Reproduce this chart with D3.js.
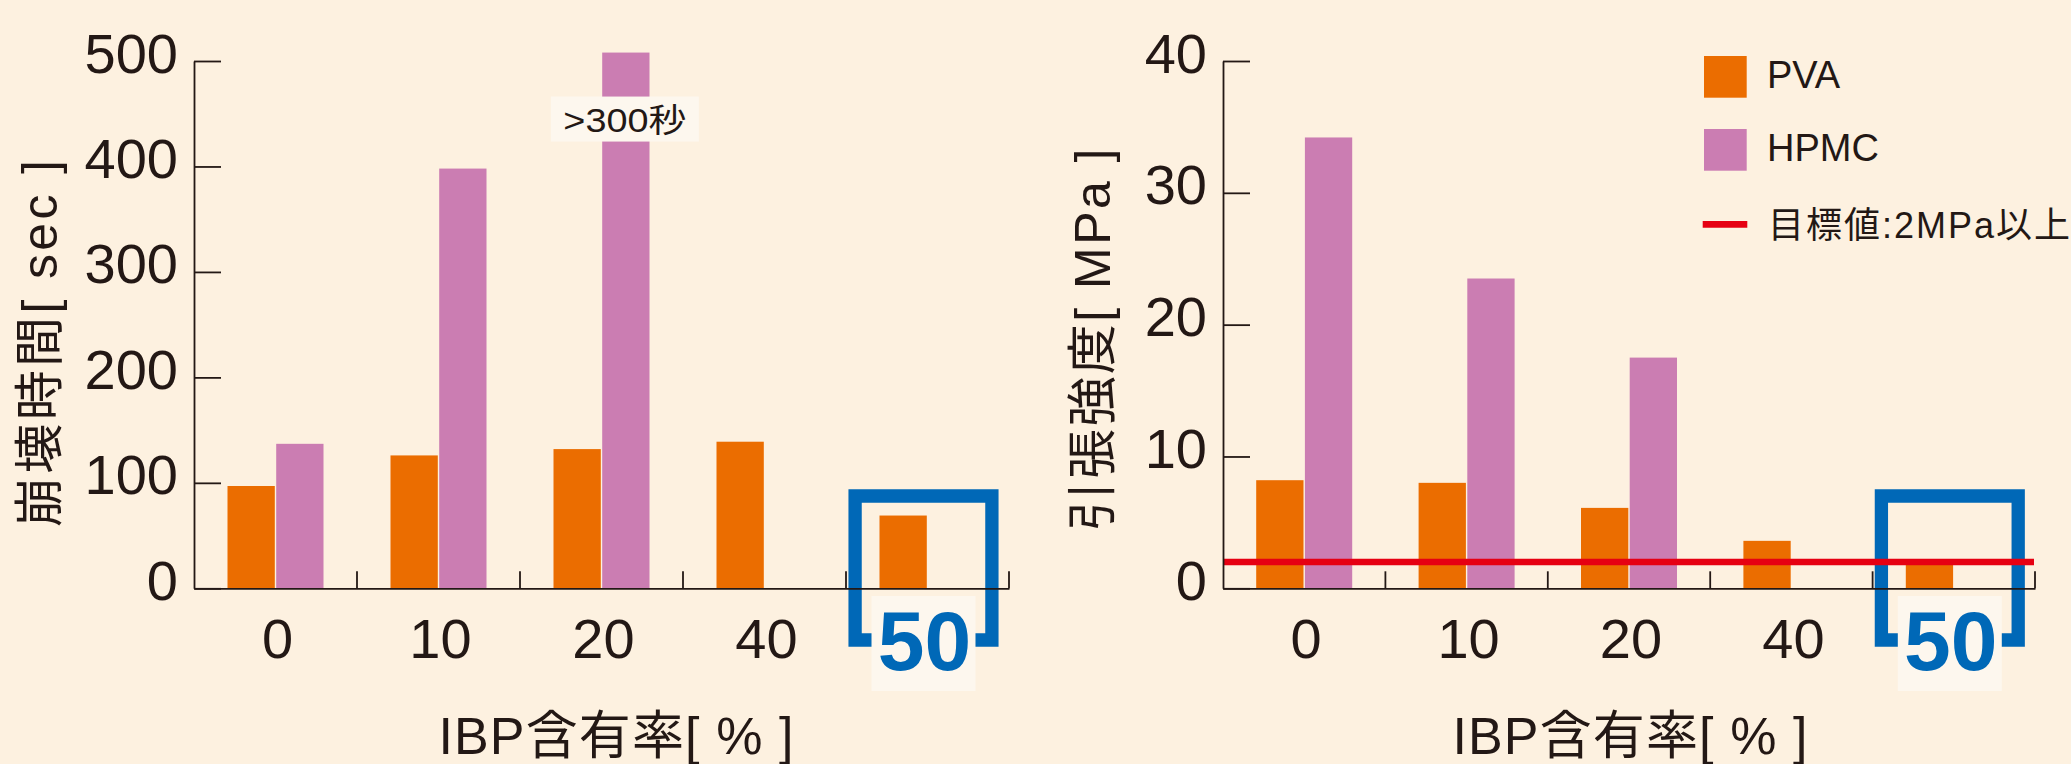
<!DOCTYPE html>
<html>
<head>
<meta charset="utf-8">
<script src="https://cdn.jsdelivr.net/npm/d3@7"></script>
<style>
  html, body { margin: 0; padding: 0; background: #fdf1e0; }
  svg { display: block; }
  text { font-family: "Liberation Sans", "Noto Sans CJK JP", sans-serif; fill: #231815; }
</style>
</head>
<body>
<svg id="chart" width="2071" height="764"></svg>
<script>
// IBP content (%) groups shared by both panels
const categories = ["0", "10", "20", "40", "50"];
const seriesNames = ["PVA", "HPMC"];

// Disintegration time [sec]
const disintegrationPVA  = [97, 126, 132, 139, 69];
const disintegrationHPMC = [137, 398, 508, null, null];
const disintegrationTicks = [0, 100, 200, 300, 400, 500];

// Tensile strength [MPa]
const tensilePVA  = [8.2, 8.0, 6.1, 3.6, 2.0];
const tensileHPMC = [34.2, 23.5, 17.5, null, null];
const tensileTicks = [0, 10, 20, 30, 40];
const targetTensile = 2;

// Text
const highlightCategory = "50";
const overflowCategory = "20";
const overflowNote = ">300秒";
const xTitle = "IBP含有率[ % ]";
const yTitleLeft = "崩壊時間[ sec ]";
const yTitleRight = "引張強度[ MPa ]";
const targetLabel = "目標値:2MPa以上";

const C = {
  pva: "#eb6d00", hpmc: "#cb7db2", ink: "#231815",
  blue: "#0068b7", red: "#e60012", box: "#fdf7ee"
};

const svg = d3.select("#chart");
const Y0 = 588.3, YTOP = 61;
const BAR_W = 47.3, GAP = 1.4;

function drawPanel(o) {
  const g = svg.append("g");
  const x = d3.scaleBand().domain(categories).range(o.xRange);
  const y = d3.scaleLinear().domain(o.yDomain).range([Y0, YTOP]);
  const cx = c => x(c) + x.bandwidth() / 2;
  const axisX = o.xRange[0];

  // highlighted group: bracket and label plate
  const hc = cx(highlightCategory) - 4;
  g.append("rect")
    .attr("x", hc - 52).attr("y", 596).attr("width", 104).attr("height", 95)
    .attr("fill", C.box);
  g.append("path")
    .attr("d", `M${hc - 52},640H${hc - 68.4}V496H${hc + 68.4}V640H${hc + 52}`)
    .attr("fill", "none").attr("stroke", C.blue)
    .attr("stroke-width", 13.3).attr("stroke-linejoin", "miter");

  // bars
  const pvaData = categories.map((c, i) => ({ c, v: o.pva[i] })).filter(d => d.v != null);
  const hpmcData = categories.map((c, i) => ({ c, v: o.hpmc[i] })).filter(d => d.v != null);
  g.append("g").selectAll("rect").data(pvaData).join("rect")
    .attr("x", d => cx(d.c) - GAP / 2 - BAR_W)
    .attr("y", d => y(d.v))
    .attr("width", BAR_W)
    .attr("height", d => y(0) - y(d.v))
    .attr("fill", C.pva);
  g.append("g").selectAll("rect").data(hpmcData).join("rect")
    .attr("x", d => cx(d.c) + GAP / 2)
    .attr("y", d => y(d.v))
    .attr("width", BAR_W)
    .attr("height", d => y(0) - y(d.v))
    .attr("fill", C.hpmc);

  // note plate over the bar that runs past the axis
  if (o.note) {
    const i = categories.indexOf(o.note.category);
    const bx = cx(o.note.category) + GAP / 2 + BAR_W / 2 - 1;
    const top = y(o.hpmc[i]) + 44;
    g.append("rect")
      .attr("x", bx - 74).attr("y", top).attr("width", 148).attr("height", 45)
      .attr("fill", C.box);
    g.append("text")
      .attr("x", bx).attr("y", top + 35)
      .attr("text-anchor", "middle")
      .attr("font-size", 33)
      .attr("textLength", 123).attr("lengthAdjust", "spacingAndGlyphs")
      .text(o.note.text);
  }

  // target line
  if (o.target != null) {
    g.append("line")
      .attr("x1", axisX).attr("x2", o.xRange[1] - 1)
      .attr("y1", y(o.target)).attr("y2", y(o.target))
      .attr("stroke", C.red).attr("stroke-width", 6.5);
  }

  // y axis, ticks pointing inward
  const yAxis = d3.axisLeft(y).tickValues(o.ticks)
    .tickSize(-27).tickSizeOuter(0).tickPadding(16);
  g.append("g")
    .attr("transform", `translate(${axisX},0)`)
    .call(yAxis)
    .attr("font-size", null).attr("font-family", null)
    .style("color", C.ink)
    .call(s => s.selectAll("path,line").attr("stroke-width", 1.8))
    .call(s => s.selectAll("text").attr("dy", 11).attr("font-size", 56));

  // x axis with category labels
  const xAxis = d3.axisBottom(x).tickSize(0).tickSizeOuter(0);
  const xg = g.append("g")
    .attr("transform", `translate(0,${Y0})`)
    .call(xAxis)
    .attr("font-size", null).attr("font-family", null)
    .style("color", C.ink);
  xg.select(".domain").attr("stroke-width", 1.8);
  xg.selectAll(".tick text")
    .attr("x", 2).attr("y", 69.4).attr("dy", 0).attr("font-size", 56);
  xg.selectAll(".tick").filter(d => d === highlightCategory).select("text")
    .attr("x", -3).attr("y", 82)
    .attr("font-size", 84).attr("font-weight", "bold")
    .style("fill", C.blue);

  // separators between groups
  g.append("g").selectAll("line").data(categories).join("line")
    .attr("x1", d => x(d) + x.bandwidth()).attr("x2", d => x(d) + x.bandwidth())
    .attr("y1", Y0).attr("y2", Y0 - 17)
    .attr("stroke", C.ink).attr("stroke-width", 1.8);

  // titles
  g.append("text")
    .attr("x", o.xTitleX).attr("y", 753.5)
    .attr("text-anchor", "middle")
    .attr("font-size", 52)
    .attr("textLength", 355).attr("lengthAdjust", "spacing")
    .text(xTitle);
  g.append("text")
    .attr("transform", `translate(${o.yTitle.x},${o.yTitle.y}) rotate(-90)`)
    .attr("text-anchor", "middle")
    .attr("font-size", 50)
    .attr("textLength", o.yTitle.len).attr("lengthAdjust", "spacing")
    .text(o.yTitle.text);
}

drawPanel({
  xRange: [194, 1009],
  yDomain: [0, 500],
  ticks: disintegrationTicks,
  pva: disintegrationPVA,
  hpmc: disintegrationHPMC,
  note: { category: overflowCategory, text: overflowNote },
  xTitleX: 616,
  yTitle: { x: 57, y: 343.5, len: 367, text: yTitleLeft }
});

drawPanel({
  xRange: [1223, 2035],
  yDomain: [0, 40],
  ticks: tensileTicks,
  pva: tensilePVA,
  hpmc: tensileHPMC,
  target: targetTensile,
  xTitleX: 1630,
  yTitle: { x: 1110, y: 340, len: 383, text: yTitleRight }
});

// legend
const legend = svg.append("g").attr("transform", "translate(1704,0)");
const swatchColors = [C.pva, C.hpmc];
seriesNames.forEach((name, i) => {
  const top = 56 + i * 73;
  legend.append("rect")
    .attr("x", 0).attr("y", top).attr("width", 42.7).attr("height", 41.7)
    .attr("fill", swatchColors[i]);
  legend.append("text")
    .attr("x", 63).attr("y", top + 32.3)
    .attr("font-size", 38)
    .text(name);
});
legend.append("line")
  .attr("x1", -1.3).attr("x2", 43.3).attr("y1", 224.3).attr("y2", 224.3)
  .attr("stroke", C.red).attr("stroke-width", 6.7);
legend.append("text")
  .attr("x", 64).attr("y", 238)
  .attr("font-size", 36)
  .attr("textLength", 302).attr("lengthAdjust", "spacing")
  .text(targetLabel);
</script>
</body>
</html>
